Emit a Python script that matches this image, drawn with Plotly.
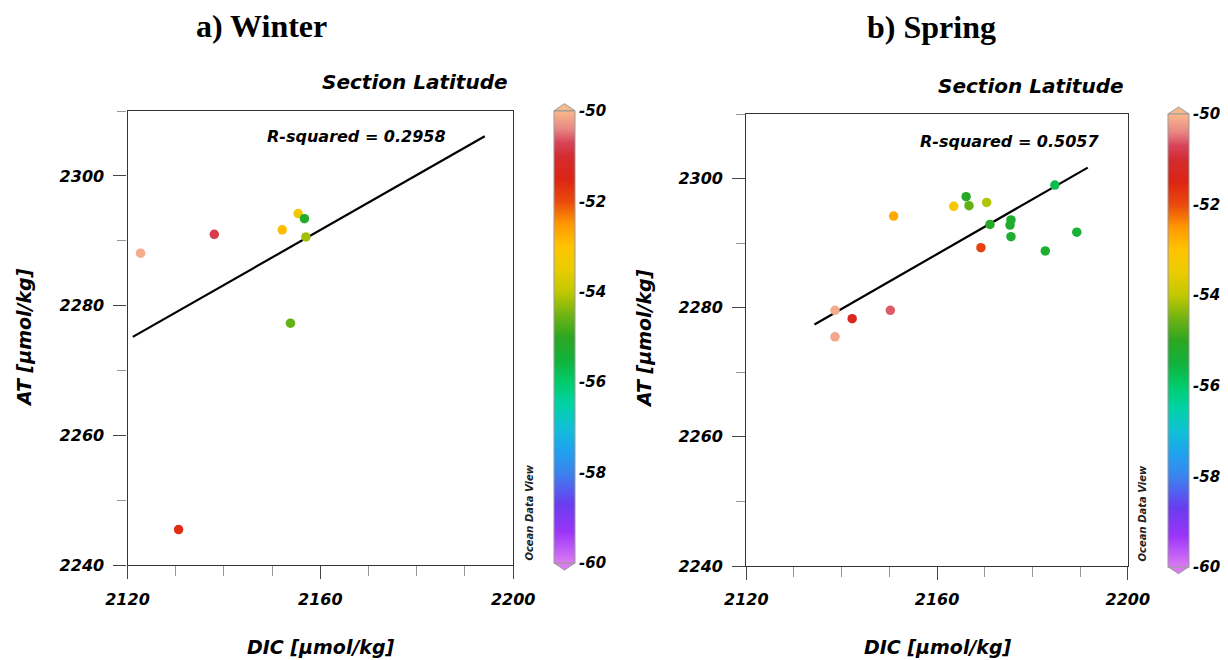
import plotly.graph_objects as go

W, H = 1228, 660

# ---------------- data ----------------
winter_dic = [2122.7, 2138.0, 2152.1, 2155.4, 2156.7, 2157.0, 2153.8, 2130.6]
winter_at = [2288.1, 2291.0, 2291.7, 2294.2, 2293.4, 2290.6, 2277.3, 2245.5]
winter_lat = [-50.1, -50.8, -52.9, -53.3, -55.2, -54.2, -54.6, -51.6]
winter_fit_dic = [2121.1, 2194.1]
winter_fit_at = [2275.2, 2306.1]
winter_r2 = "R-squared = 0.2958"

spring_dic = [2150.9, 2163.5, 2166.1, 2166.7, 2170.4, 2171.1, 2175.5, 2175.3, 2175.5,
              2184.7, 2189.3, 2182.7, 2169.2, 2138.6, 2142.2, 2150.2, 2138.6]
spring_at = [2294.2, 2295.7, 2297.2, 2295.8, 2296.3, 2292.9, 2293.6, 2292.8, 2291.0,
             2299.0, 2291.7, 2288.8, 2289.3, 2279.6, 2278.3, 2279.6, 2275.5]
spring_lat = [-52.7, -53.2, -55.1, -54.6, -54.1, -55.1, -55.3, -55.2, -55.3,
              -55.7, -55.4, -55.3, -51.9, -50.1, -51.3, -50.6, -50.15]
spring_fit_dic = [2134.3, 2191.6]
spring_fit_at = [2277.4, 2301.7]
spring_r2 = "R-squared = 0.5057"

x_range = [2120, 2200]
y_range = [2240, 2310]
x_ticks = [2120, 2160, 2200]
y_ticks = [2240, 2260, 2280, 2300]
lat_range = [-60, -50]
lat_ticks = [-60, -58, -56, -54, -52, -50]
lat_labels = ["-60", "-58", "-56", "-54", "-52", "-50"]

odv_scale = [
    [0.00, "#dc7af2"], [0.07, "#9a34fb"], [0.13, "#6a3cf0"], [0.20, "#3a84ee"],
    [0.25, "#1fa2f0"], [0.30, "#10c0d6"], [0.35, "#00d2a6"], [0.40, "#00cc6c"],
    [0.45, "#12b23a"], [0.50, "#2ea622"], [0.55, "#72b412"], [0.60, "#c2c800"],
    [0.65, "#eacc00"], [0.70, "#ffc400"], [0.75, "#ff9800"], [0.80, "#ea4a0c"],
    [0.85, "#dc2414"], [0.90, "#d42c30"], [0.93, "#d8445a"], [0.96, "#e88684"],
    [1.00, "#f9b98c"],
]

# ---------------- layout helpers ----------------
def fx(px):
    return px / W

def fy(py):
    return 1 - py / H

FONT = "DejaVu Sans"
def bi(size, color="black"):
    return dict(family=FONT, size=size, color=color, weight="bold", style="italic")

panels = [
    dict(dic=winter_dic, at=winter_at, lat=winter_lat, fx_=winter_fit_dic, fy_=winter_fit_at,
         r2=winter_r2, xpx=(127.5, 513.2), ypx=(111, 565.3), cb=(554, 110.7, 563),
         title="a) Winter", title_pos=(261, 26), sec_pos=(414.6, 82), r2_pos=(356, 136),
         xt_pos=(320.5, 647), yt_pos=(24, 338), odv_pos=(528.6, 513)),
    dict(dic=spring_dic, at=spring_at, lat=spring_lat, fx_=spring_fit_dic, fy_=spring_fit_at,
         r2=spring_r2, xpx=(746.3, 1127.8), ypx=(114, 566), cb=(1168, 114, 566.7),
         title="b) Spring", title_pos=(931, 27), sec_pos=(1030.5, 86), r2_pos=(1009, 141.7),
         xt_pos=(937.6, 647), yt_pos=(644, 339), odv_pos=(1142.4, 513)),
]

fig = go.Figure()
annotations = []
shapes = []
CB_W = 21

for i, p in enumerate(panels):
    n = "" if i == 0 else str(i + 1)
    xa, ya = "x" + n, "y" + n
    ca = "coloraxis" + n
    fig.add_trace(go.Scatter(
        x=p["fx_"], y=p["fy_"], mode="lines", xaxis=xa, yaxis=ya,
        line=dict(color="black", width=2.2), showlegend=False, hoverinfo="skip"))
    fig.add_trace(go.Scatter(
        x=p["dic"], y=p["at"], mode="markers", xaxis=xa, yaxis=ya, showlegend=False,
        marker=dict(size=9.5, color=p["lat"], coloraxis=ca, line=dict(width=0))))

    axis_common = dict(
        showline=True, linecolor="#333", linewidth=1.3, mirror=True, automargin=False,
        showgrid=False, zeroline=False, ticks="outside", tickcolor="#444",
        tickwidth=1.3, ticklen=13, tickfont=bi(16), ticklabelstandoff=6,
    )
    fig.update_layout(**{
        "xaxis" + n: dict(axis_common, domain=[fx(p["xpx"][0]), fx(p["xpx"][1])],
                          range=x_range, tickvals=x_ticks, anchor=ya,
                          minor=dict(dtick=10, tick0=2120, ticks="outside", ticklen=10,
                                     tickcolor="#999", tickwidth=1.2)),
        "yaxis" + n: dict(axis_common, domain=[fy(p["ypx"][1]), fy(p["ypx"][0])],
                          range=y_range, tickvals=y_ticks, anchor=xa,
                          minor=dict(dtick=10, tick0=2240, ticks="outside", ticklen=9,
                                     tickcolor="#999", tickwidth=1.2)),
    })

    cbx, cbt, cbb = p["cb"]
    fig.update_layout(**{
        ca: dict(
            cmin=lat_range[0], cmax=lat_range[1], colorscale=odv_scale,
            colorbar=dict(
                thickness=CB_W, thicknessmode="pixels",
                len=cbb - cbt, lenmode="pixels",
                x=fx(cbx), xanchor="left", xpad=0, xref="container",
                y=fy((cbt + cbb) / 2), yanchor="middle", ypad=0, yref="container",
                outlinewidth=1, outlinecolor="#999",
                ticks="inside", ticklen=5, tickcolor="rgba(0,0,0,0)",
                tickvals=lat_ticks, ticktext=lat_labels, tickfont=bi(15),
            ),
        )
    })

    # colorbar end arrows
    x0, x1, xm = fx(cbx), fx(cbx + CB_W), fx(cbx + CB_W / 2)
    shapes.append(dict(type="path", xref="paper", yref="paper",
                       path=f"M {x0} {fy(cbt)} L {xm} {fy(cbt - 7)} L {x1} {fy(cbt)} Z",
                       fillcolor="#f9b98c", line=dict(color="#999", width=1)))
    shapes.append(dict(type="path", xref="paper", yref="paper",
                       path=f"M {x0} {fy(cbb)} L {xm} {fy(cbb + 7)} L {x1} {fy(cbb)} Z",
                       fillcolor="#dc7af2", line=dict(color="#999", width=1)))
    # dashed tick marks inside the colour bar (both edges)
    for t in lat_ticks[1:-1]:
        ty = cbb - (t - lat_range[0]) / (lat_range[1] - lat_range[0]) * (cbb - cbt)
        for ex0, ex1 in ((cbx, cbx + 5), (cbx + CB_W - 5, cbx + CB_W)):
            shapes.append(dict(type="line", xref="paper", yref="paper",
                               x0=fx(ex0), x1=fx(ex1), y0=fy(ty), y1=fy(ty),
                               line=dict(color="rgba(40,40,40,0.8)", width=1.2)))

    def ann(text, pos, font, **kw):
        annotations.append(dict(text=text, x=fx(pos[0]), y=fy(pos[1]), xref="paper",
                                yref="paper", showarrow=False, font=font,
                                xanchor="center", yanchor="middle", **kw))

    ann(p["title"], p["title_pos"], dict(family="Liberation Serif", size=32,
                                         color="black", weight="bold"))
    ann("Section Latitude", p["sec_pos"], bi(20))
    ann(p["r2"], p["r2_pos"], bi(16))
    ann("DIC [µmol/kg]", p["xt_pos"], bi(19))
    ann("AT [µmol/kg]", p["yt_pos"], bi(19), textangle=-90)
    ann("Ocean Data View", p["odv_pos"], bi(10, "#222"), textangle=-90)

fig.update_layout(
    width=W, height=H, margin=dict(l=0, r=0, t=0, b=0, autoexpand=False),
    paper_bgcolor="white", plot_bgcolor="white",
    annotations=annotations, shapes=shapes,
)

fig.write_html("out.html")
